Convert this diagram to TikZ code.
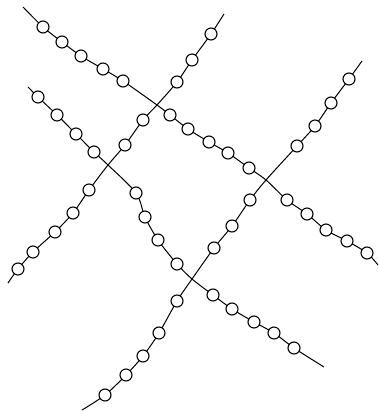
\documentclass[tikz,border=0pt]{standalone}
\usepackage{tikz}
\tikzset{
  backbone/.style={line width=1pt,black},
  bead/.style={circle,draw=black,line width=1.1pt,fill=white,minimum size=12pt,inner sep=0pt}
}
\begin{document}
\begin{tikzpicture}[x=1pt,y=-1pt]
\useasboundingbox (0,0) rectangle (378,411);
% backbones
\draw[backbone] plot[smooth,tension=0.5] coordinates {(23,7) (43,27) (62,42) (81,56) (103,69) (123,81) (157,105) (170,115) (188,129) (209,142) (228,153) (249,168) (266,180) (287,200) (307,214) (326,230) (347,241) (367,253) (378,265)};
\draw[backbone] plot[smooth,tension=0.5] coordinates {(224,14) (211,34) (192,60) (177,82) (157,105) (143,120) (125,145) (108,165) (89,190) (73,213) (55,232) (33,252) (18,269) (8,283)};
\draw[backbone] plot[smooth,tension=0.5] coordinates {(28,87) (38,97) (57,115) (76,134) (94,152) (108,165) (136,193) (145,217) (158,240) (177,264) (192,279) (213,295) (232,309) (254,322) (274,333) (294,348) (324,367)};
\draw[backbone] plot[smooth,tension=0.5] coordinates {(362,61) (349,79) (331,103) (315,126) (297,146) (266,180) (250,200) (232,226) (214,248) (192,279) (177,301) (159,333) (143,356) (126,375) (105,395) (82,410)};
% beads
\foreach \x/\y [count=\i] in {43/27,62/42,81/56,103/69,123/81,170/115,188/129,209/142,228/153,249/168,287/200,307/214,326/230,347/241,367/253}
  \node[bead] (a\i) at (\x,\y) {};
\foreach \x/\y [count=\i] in {211/34,192/60,177/82,143/120,125/145,89/190,73/213,55/232,33/252,18/269}
  \node[bead] (b\i) at (\x,\y) {};
\foreach \x/\y [count=\i] in {38/97,57/115,76/134,94/152,136/193,145/217,158/240,177/264,213/295,232/309,254/322,274/333,294/348}
  \node[bead] (c\i) at (\x,\y) {};
\foreach \x/\y [count=\i] in {349/79,331/103,315/126,297/146,250/200,232/226,214/248,177/301,159/333,143/356,126/375,105/395}
  \node[bead] (d\i) at (\x,\y) {};
\end{tikzpicture}
\end{document}
